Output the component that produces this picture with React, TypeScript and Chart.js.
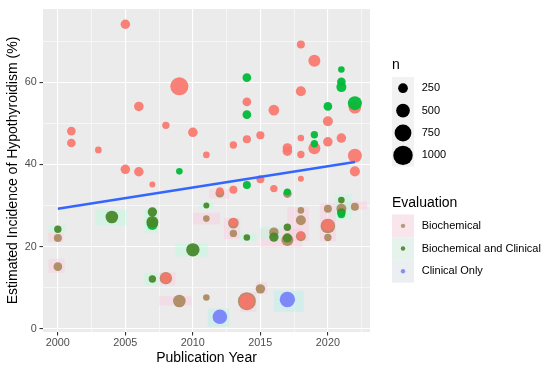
import React, { useEffect, useRef } from "react";
import { Chart, registerables } from "chart.js";

Chart.register(...registerables);

const FONT = "'Liberation Sans', Arial, Helvetica, sans-serif";

// axis ticks
const xMajorTicks = [2000, 2005, 2010, 2015, 2020];
const xMinorTicks = [2002.5, 2007.5, 2012.5, 2017.5, 2022.5];
const yMajorTicks = [0, 20, 40, 60];
const yMinorTicks = [10, 30, 50, 70];

// [year, incidence %, n]
const redPoints: number[][] = [
  [2005, 74.1, 240], [2006, 54.1, 240], [2001, 48.1, 200], [2001, 45.2, 200],
  [2003, 43.5, 120], [2005, 38.8, 240], [2006, 38.2, 240], [2009, 59.0, 870],
  [2014, 55.2, 200], [2008, 49.5, 145], [2010, 47.8, 240], [2015, 47.1, 175],
  [2014, 46.1, 175], [2013, 44.7, 145], [2011, 42.3, 115], [2018, 69.2, 170],
  [2019, 65.2, 380], [2018, 57.8, 270], [2022, 53.9, 420], [2016, 53.2, 300],
  [2020, 50.5, 265], [2018, 46.4, 115], [2019, 43.9, 380], [2020, 45.5, 240],
  [2021, 46.4, 240], [2017, 44.0, 240], [2017, 43.2, 240], [2018, 42.4, 145],
  [2022, 42.1, 520], [2022, 38.3, 270], [2007, 35.1, 95], [2013, 33.8, 170],
  [2015, 36.4, 170], [2018, 36.5, 95], [2016, 34.1, 145],
  [2012, 33.5, 150], [2013, 25.9, 200], [2008, 12.4, 300], [2014, 6.6, 620],
  [2020, 25.2, 400], [2018, 22.6, 170],
];

const greenPoints: number[][] = [
  [2014, 61.1, 200], [2014, 52.1, 200], [2009, 38.3, 115], [2021, 63.1, 115],
  [2021, 60.1, 200], [2021, 58.8, 265], [2022, 54.9, 520], [2020, 54.1, 200],
  [2019, 47.2, 145], [2019, 45.0, 145], [2014, 35.0, 170], [2017, 33.3, 130],
  [2021, 27.8, 150],
];

const greenUnderPoints: number[][] = [[2007, 25.4, 330]];

const biochemicalPoints: number[][] = [
  [2000, 22.1, 170], [2000, 15.1, 200], [2011, 26.8, 115], [2013, 25.7, 300],
  [2013, 23.2, 145], [2008, 12.3, 400], [2009, 6.75, 420], [2011, 7.6, 115],
  [2014, 6.7, 850], [2015, 9.7, 234], [2018, 28.8, 115], [2018, 26.4, 265],
  [2020, 29.2, 170], [2021, 29.2, 265], [2022, 29.7, 170], [2020, 25.0, 560],
  [2020, 22.2, 145], [2016, 23.5, 234], [2017, 21.6, 382], [2018, 22.5, 260],
  [2012, 33.0, 200], [2017, 32.9, 200],
];

const bioClinicalPoints: number[][] = [
  [2004, 27.2, 421], [2007, 28.4, 234], [2007, 26.0, 382], [2000, 24.2, 145],
  [2007, 12.1, 145], [2011, 30.0, 95], [2014, 22.2, 115], [2010, 19.2, 476],
  [2021, 31.3, 115], [2021, 28.3, 196], [2016, 22.3, 234], [2017, 24.7, 145],
  [2017, 22.1, 220],
];

const clinicalOnlyPoints: number[][] = [[2012, 2.9, 565], [2017, 7.1, 629]];

// trend line endpoints [year, %]
const trendYears = [2000, 2022];
const trendValues = [29.2, 40.6];

// highlight boxes [xFrom, xTo, yFrom, yTo]
const biochemicalBoxes: number[][] = [
  [1999.3, 2000.4, 21.1, 23.4], [1999.3, 2000.5, 13.6, 17.0], [2010.0, 2012.0, 25.4, 28.2],
  [2012.3, 2013.5, 21.8, 27.0], [2007.5, 2008.7, 10.5, 13.7], [2007.5, 2009.9, 5.7, 7.9],
  [2013.5, 2014.7, 4.1, 8.9], [2014.7, 2015.5, 8.5, 11.3], [2011.2, 2012.7, 31.7, 33.9],
  [2017.0, 2018.6, 21.4, 29.6], [2019.4, 2020.6, 21.3, 30.5], [2020.6, 2022.9, 29.0, 30.9],
  [2015.0, 2018.1, 19.8, 24.3],
];
const bioClinicalBoxes: number[][] = [
  [2002.8, 2005.1, 25.2, 29.0], [2006.4, 2007.4, 23.4, 29.2], [1999.3, 2000.6, 23.4, 25.2],
  [2006.4, 2007.4, 10.4, 13.6], [2008.7, 2011.1, 17.6, 20.8], [2013.5, 2014.7, 21.4, 23.1],
  [2010.5, 2011.5, 29.2, 30.8], [2020.5, 2021.8, 26.7, 32.7], [2015.0, 2016.6, 21.9, 24.8],
];
const clinicalOnlyBoxes: number[][] = [
  [2011.1, 2012.7, 0.5, 4.9], [2016.0, 2018.2, 4.1, 9.3],
];

const sizeLegend = [250, 500, 750, 1000];
const evaluationLabels = ["Biochemical", "Biochemical and Clinical", "Clinical Only"];

const rOf = (n: number) => 0.307 * Math.sqrt(n);
const toPts = (arr: number[][]) => arr.map(([x, y, n]) => ({ x, y, n }));

const panelPlugin = {
  id: "panelBg",
  beforeDraw(chart: any) {
    const { ctx, chartArea: a } = chart;
    ctx.save();
    ctx.fillStyle = "#EBEBEB";
    ctx.fillRect(a.left, a.top, a.right - a.left, a.bottom - a.top);
    ctx.restore();
  },
};

const boxPlugin = {
  id: "boxes",
  beforeDatasetsDraw(chart: any) {
    const { ctx, chartArea: a, scales } = chart;
    const xs = scales.x, ys = scales.y;
    ctx.save();
    ctx.beginPath();
    ctx.rect(a.left, a.top, a.right - a.left, a.bottom - a.top);
    ctx.clip();
    const draw = (boxes: number[][], color: string) => {
      ctx.fillStyle = color;
      boxes.forEach(([x0, x1, y0, y1]) => {
        const px0 = xs.getPixelForValue(x0), px1 = xs.getPixelForValue(x1);
        const py0 = ys.getPixelForValue(y0), py1 = ys.getPixelForValue(y1);
        ctx.fillRect(px0, py1, px1 - px0, py0 - py1);
      });
    };
    draw(biochemicalBoxes, "rgba(255,195,220,0.36)");
    draw(bioClinicalBoxes, "rgba(180,255,220,0.40)");
    draw(clinicalOnlyBoxes, "rgba(175,240,235,0.40)");
    ctx.restore();
  },
};

const legendPlugin = {
  id: "ggLegend",
  afterDraw(chart: any) {
    const ctx = chart.ctx;
    ctx.save();
    ctx.textAlign = "left";
    // size legend
    ctx.fillStyle = "#000";
    ctx.font = `14px ${FONT}`;
    ctx.textBaseline = "alphabetic";
    ctx.fillText("n", 392, 68.5);
    const rowH = 22.4;
    const top1 = 77;
    ctx.fillStyle = "#F2F2F2";
    ctx.fillRect(392, top1, 22, rowH * sizeLegend.length);
    sizeLegend.forEach((n, i) => {
      const cy = top1 + rowH * (i + 0.5);
      ctx.fillStyle = "#000";
      ctx.beginPath();
      ctx.arc(403, cy, rOf(n), 0, Math.PI * 2);
      ctx.fill();
      ctx.font = `11px ${FONT}`;
      ctx.textBaseline = "middle";
      ctx.fillText(String(n), 421.7, cy);
    });
    // evaluation legend
    ctx.font = `14px ${FONT}`;
    ctx.textBaseline = "alphabetic";
    ctx.fillStyle = "#000";
    ctx.fillText("Evaluation", 392, 206.7);
    const top2 = 214.5;
    const rowH2 = 22.7;
    const keyBg = ["rgba(255,215,228,0.45)", "rgba(215,245,228,0.45)", "rgba(228,236,240,0.5)"];
    const keyDot = ["#B89A78", "#5C8C3C", "#8C8FF2"];
    evaluationLabels.forEach((lab, i) => {
      const y0 = top2 + rowH2 * i;
      ctx.fillStyle = "#F2F2F2";
      ctx.fillRect(392, y0, 22, rowH2);
      ctx.fillStyle = keyBg[i];
      ctx.fillRect(392, y0, 22, rowH2);
      const cy = y0 + rowH2 / 2;
      ctx.fillStyle = keyDot[i];
      ctx.beginPath();
      ctx.arc(403, cy, 2.2, 0, Math.PI * 2);
      ctx.fill();
      ctx.fillStyle = "#000";
      ctx.font = `11px ${FONT}`;
      ctx.textBaseline = "middle";
      ctx.fillText(lab, 421.7, cy);
    });
    ctx.restore();
  },
};

export default function App() {
  const ref = useRef<HTMLCanvasElement | null>(null);

  useEffect(() => {
    if (!ref.current) return;
    const radius = (c: any) => (c.raw && c.raw.n ? rOf(c.raw.n) : 0);
    const pointDs = (label: string, arr: number[][], color: string, order: number) => ({
      label,
      data: toPts(arr),
      backgroundColor: color,
      borderWidth: 0,
      pointRadius: radius,
      pointHoverRadius: radius,
      order,
    });
    const xAll = [...xMajorTicks, ...xMinorTicks].sort((a, b) => a - b);
    const yAll = [...yMajorTicks, ...yMinorTicks].sort((a, b) => a - b);

    const chart = new Chart(ref.current, {
      type: "scatter",
      data: {
        datasets: [
          {
            label: "trend",
            data: trendYears.map((x, i) => ({ x, y: trendValues[i] })),
            showLine: true,
            borderColor: "#3366FF",
            borderWidth: 2.5,
            pointRadius: 0,
            order: 0,
          } as any,
          pointDs("greenTop", greenPoints, "rgba(0,186,56,0.95)", 1),
          pointDs("redTop", redPoints, "rgba(248,118,109,0.92)", 2),
          pointDs("Clinical Only", clinicalOnlyPoints, "rgba(120,132,250,0.95)", 3),
          pointDs("Biochemical and Clinical", bioClinicalPoints, "rgba(72,136,42,0.95)", 4),
          pointDs("Biochemical", biochemicalPoints, "rgba(172,138,98,0.95)", 5),
          pointDs("greenUnder", greenUnderPoints, "rgba(0,186,56,0.95)", 6),
        ],
      },
      options: {
        responsive: false,
        animation: false,
        layout: { padding: { left: 0, right: 180, top: 6, bottom: 0 } },
        plugins: { legend: { display: false }, tooltip: { enabled: false } },
        scales: {
          x: {
            type: "linear",
            min: 1998.9,
            max: 2023.12,
            afterBuildTicks: (s: any) => {
              s.ticks = xAll.map((v) => ({ value: v }));
            },
            afterFit: (s: any) => {
              s.height = 37;
              s.paddingLeft = 0;
              s.paddingRight = 0;
            },
            ticks: {
              autoSkip: false,
              maxRotation: 0,
              padding: 1.5,
              color: "#4D4D4D",
              font: { family: FONT, size: 10.8 },
              callback: (v: any) => (xMajorTicks.includes(Number(v)) ? String(v) : ""),
            },
            grid: {
              color: "#FFFFFF",
              lineWidth: (c: any) => (c.tick && xMajorTicks.includes(c.tick.value) ? 1.1 : 0.55),
              tickColor: (c: any) => (c.tick && xMajorTicks.includes(c.tick.value) ? "#333333" : "rgba(0,0,0,0)"),
              tickLength: 3.5,
              drawTicks: true,
            },
            border: { display: false },
            title: {
              display: true,
              text: "Publication Year",
              color: "#000",
              font: { family: FONT, size: 14 },
              padding: { top: 0, bottom: 2.6 },
            },
          },
          y: {
            type: "linear",
            min: -0.8,
            max: 77.8,
            afterBuildTicks: (s: any) => {
              s.ticks = yAll.map((v) => ({ value: v }));
            },
            afterFit: (s: any) => {
              s.width = 43;
              s.paddingTop = 0;
              s.paddingBottom = 0;
            },
            ticks: {
              autoSkip: false,
              padding: 2.8,
              color: "#4D4D4D",
              font: { family: FONT, size: 10.8 },
              callback: (v: any) => (yMajorTicks.includes(Number(v)) ? String(v) : ""),
            },
            grid: {
              color: "#FFFFFF",
              lineWidth: (c: any) => (c.tick && yMajorTicks.includes(c.tick.value) ? 1.1 : 0.55),
              tickColor: (c: any) => (c.tick && yMajorTicks.includes(c.tick.value) ? "#333333" : "rgba(0,0,0,0)"),
              tickLength: 3.5,
              drawTicks: true,
            },
            border: { display: false },
            title: {
              display: true,
              text: "Estimated Incidence of Hypothyroidism (%)",
              color: "#000",
              font: { family: FONT, size: 14 },
              padding: { top: 4.9, bottom: 0 },
            },
          },
        },
      } as any,
      plugins: [panelPlugin, boxPlugin, legendPlugin],
    });
    return () => chart.destroy();
  }, []);

  return (
    <div style={{ position: "absolute", left: 0, top: 0, width: 550, height: 369, background: "#fff" }}>
      <canvas ref={ref} width={550} height={369} style={{ display: "block", width: 550, height: 369 }} />
    </div>
  );
}
